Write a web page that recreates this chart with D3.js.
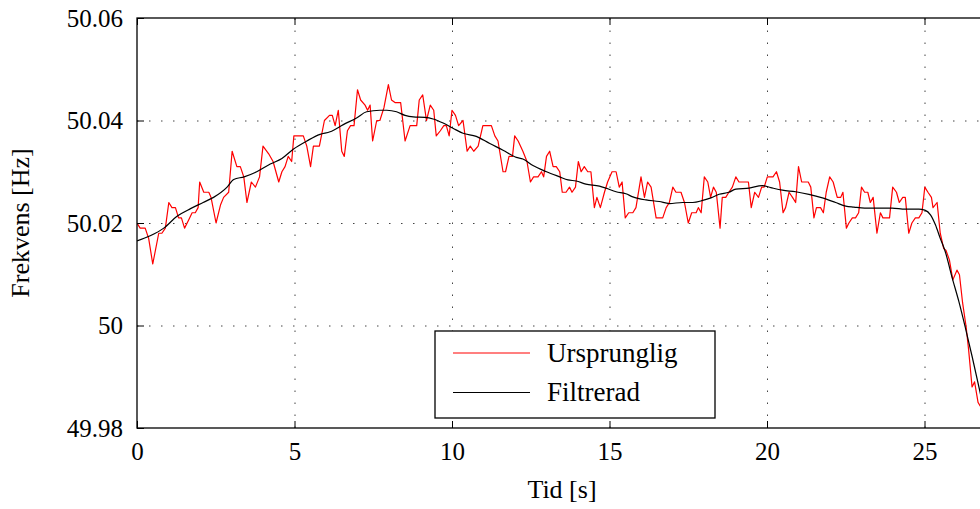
<!DOCTYPE html>
<html>
<head>
<meta charset="utf-8">
<script src="https://cdn.jsdelivr.net/npm/d3@7"></script>
<style>
  body { margin: 0; background: #fff; }
  svg { display: block; }
</style>
</head>
<body>
<div id="chart"></div>
<script>
// tid [s], frekvens [Hz] - avläst ur originalet
const ursprunglig = [
  [0.00,50.020],[0.10,50.019],[0.26,50.019],[0.37,50.017],[0.50,50.012],[0.69,50.018],[0.79,50.018],[0.90,50.019],
  [1.01,50.024],[1.11,50.023],[1.22,50.023],[1.32,50.021],[1.41,50.021],[1.51,50.019],[1.64,50.0206],[1.75,50.022],
  [1.85,50.022],[1.94,50.023],[1.99,50.028],[2.12,50.026],[2.28,50.026],[2.35,50.025],[2.51,50.020],[2.65,50.0235],
  [2.75,50.025],[2.91,50.026],[3.02,50.034],[3.17,50.031],[3.28,50.031],[3.39,50.029],[3.49,50.024],[3.63,50.028],
  [3.76,50.027],[3.89,50.029],[4.00,50.035],[4.18,50.0335],[4.32,50.032],[4.50,50.028],[4.60,50.030],[4.70,50.031],
  [4.80,50.033],[4.91,50.032],[4.98,50.037],[5.28,50.037],[5.39,50.035],[5.51,50.031],[5.60,50.035],[5.79,50.035],
  [5.95,50.040],[6.11,50.041],[6.20,50.041],[6.29,50.039],[6.39,50.042],[6.50,50.034],[6.58,50.033],[6.68,50.038],
  [6.78,50.039],[6.89,50.039],[7.00,50.046],[7.10,50.044],[7.24,50.043],[7.32,50.042],[7.40,50.043],[7.48,50.036],
  [7.61,50.040],[7.71,50.040],[7.84,50.0425],[7.98,50.047],[8.08,50.044],[8.19,50.0435],[8.37,50.0435],[8.51,50.036],
  [8.67,50.039],[8.77,50.039],[8.88,50.039],[8.96,50.044],[9.07,50.045],[9.19,50.040],[9.31,50.043],[9.42,50.042],
  [9.50,50.037],[9.63,50.038],[9.74,50.039],[9.82,50.039],[9.91,50.037],[10.00,50.042],[10.11,50.041],[10.21,50.039],
  [10.35,50.040],[10.48,50.034],[10.58,50.035],[10.69,50.034],[10.83,50.035],[10.98,50.039],[11.25,50.039],[11.36,50.037],
  [11.46,50.036],[11.62,50.030],[11.70,50.030],[11.81,50.033],[11.92,50.033],[11.99,50.037],[12.10,50.036],[12.25,50.034],
  [12.38,50.032],[12.49,50.028],[12.59,50.029],[12.73,50.029],[12.84,50.030],[12.91,50.029],[13.00,50.033],[13.10,50.034],
  [13.21,50.031],[13.31,50.031],[13.42,50.030],[13.50,50.026],[13.62,50.026],[13.73,50.027],[13.81,50.026],[13.92,50.027],
  [14.01,50.032],[14.10,50.030],[14.20,50.031],[14.31,50.030],[14.41,50.030],[14.52,50.023],[14.60,50.025],[14.71,50.023],
  [14.84,50.026],[14.94,50.028],[15.08,50.030],[15.21,50.030],[15.31,50.027],[15.40,50.028],[15.50,50.021],[15.61,50.022],
  [15.74,50.022],[15.84,50.023],[16.00,50.029],[16.11,50.025],[16.21,50.028],[16.32,50.027],[16.48,50.021],[16.69,50.021],
  [16.80,50.023],[16.90,50.024],[17.01,50.027],[17.11,50.026],[17.27,50.026],[17.38,50.024],[17.50,50.020],[17.61,50.022],
  [17.75,50.022],[17.82,50.023],[17.91,50.022],[18.01,50.029],[18.12,50.028],[18.21,50.025],[18.30,50.027],[18.39,50.026],
  [18.51,50.019],[18.58,50.025],[18.69,50.025],[18.79,50.026],[18.90,50.027],[19.01,50.029],[19.11,50.028],[19.41,50.028],
  [19.50,50.023],[19.61,50.026],[19.73,50.025],[19.83,50.027],[19.91,50.027],[20.01,50.029],[20.19,50.029],[20.30,50.030],
  [20.40,50.028],[20.51,50.022],[20.59,50.023],[20.70,50.026],[20.81,50.025],[20.91,50.024],[21.00,50.031],[21.10,50.028],
  [21.31,50.028],[21.39,50.027],[21.49,50.021],[21.57,50.023],[21.70,50.023],[21.79,50.022],[21.88,50.026],[21.99,50.029],
  [22.10,50.028],[22.23,50.025],[22.34,50.025],[22.41,50.026],[22.52,50.019],[22.60,50.020],[22.71,50.021],[22.81,50.021],
  [22.91,50.022],[23.00,50.027],[23.10,50.026],[23.20,50.026],[23.28,50.024],[23.37,50.025],[23.49,50.018],[23.60,50.022],
  [23.68,50.021],[23.89,50.021],[23.99,50.027],[24.11,50.026],[24.20,50.024],[24.31,50.025],[24.39,50.025],[24.50,50.018],
  [24.60,50.020],[24.71,50.021],[24.82,50.021],[24.92,50.022],[25.01,50.027],[25.11,50.026],[25.22,50.025],[25.27,50.023],
  [25.40,50.024],[25.50,50.018],[25.61,50.015],[25.68,50.0147],[25.79,50.0128],[25.90,50.0089],[26.03,50.0108],[26.11,50.0099],
  [26.21,50.0044],[26.32,49.9998],[26.40,49.9953],[26.51,49.988],[26.59,49.989],[26.70,49.985],[26.80,49.984]
];

const filtrerad = [
  [0.00,50.0165],[0.42,50.0175],[0.85,50.019],[1.27,50.0213],[1.70,50.0228],[2.10,50.024],[2.43,50.025],[2.86,50.027],
  [3.07,50.0285],[3.40,50.029],[3.80,50.030],[4.23,50.0315],[4.60,50.0326],[4.96,50.0344],[5.39,50.036],[5.81,50.0373],
  [6.13,50.0378],[6.55,50.0392],[6.97,50.0405],[7.29,50.0417],[7.71,50.042],[7.93,50.042],[8.24,50.0417],[8.51,50.041],
  [8.77,50.0407],[9.14,50.0406],[9.40,50.0403],[9.72,50.0395],[10.03,50.0385],[10.35,50.0375],[10.77,50.0369],[11.20,50.0355],
  [11.62,50.0342],[12.04,50.0328],[12.25,50.0325],[12.57,50.0312],[13.00,50.030],[13.42,50.029],[13.68,50.0284],[13.94,50.0282],
  [14.25,50.0276],[14.68,50.0272],[14.89,50.0268],[15.21,50.0261],[15.52,50.0257],[15.74,50.0251],[16.16,50.0245],[16.58,50.0242],
  [16.90,50.0238],[17.32,50.024],[17.64,50.024],[17.96,50.0244],[18.22,50.0249],[18.48,50.0256],[18.79,50.026],[19.01,50.0266],
  [19.43,50.0268],[19.85,50.0273],[20.12,50.0269],[20.49,50.0264],[20.91,50.0261],[21.33,50.0256],[21.76,50.0249],[22.18,50.024],
  [22.50,50.0233],[22.76,50.0231],[23.10,50.0229],[23.55,50.0229],[23.97,50.0229],[24.39,50.0227],[24.82,50.0227],[25.01,50.0225],
  [25.19,50.0216],[25.35,50.0196],[25.50,50.017],[25.66,50.0144],[25.87,50.0095],[26.09,50.0047],[26.30,49.9995],[26.51,49.994],
  [26.76,49.9871],[26.90,49.983]
];

const xTicks = [0, 5, 10, 15, 20, 25, 30];
const yTicks = [49.98, 50, 50.02, 50.04, 50.06];
const legendNames = ["Ursprunglig", "Filtrerad"];
const colors = ["#ff0000", "#000000"];

const serif = '"Liberation Serif", "Times New Roman", serif';
const width = 980, height = 509;
const mLeft = 137, mTop = 18, mBottom = 428;
const mRight = mLeft + 30 * 31.5; // axeln fortsätter utanför bilden

const x = d3.scaleLinear().domain([0, 30]).range([mLeft, mRight]);
const y = d3.scaleLinear().domain([49.98, 50.06]).range([mBottom, mTop]);

const svg = d3.select("#chart").append("svg")
  .attr("width", width)
  .attr("height", height);

svg.append("defs").append("clipPath").attr("id", "plotclip")
  .append("rect")
  .attr("x", mLeft).attr("y", mTop)
  .attr("width", mRight - mLeft).attr("height", mBottom - mTop);

// rutnät
svg.append("g")
  .attr("transform", `translate(0,${mBottom})`)
  .call(d3.axisBottom(x).tickValues(xTicks.filter(d => d > 0)).tickSize(-(mBottom - mTop)).tickFormat(""))
  .call(g => g.select(".domain").remove())
  .selectAll("line")
  .attr("stroke", "#444")
  .attr("stroke-dasharray", "1.5,10.5");

svg.append("g")
  .attr("transform", `translate(${mLeft},0)`)
  .call(d3.axisLeft(y).tickValues(yTicks.slice(1, -1)).tickSize(-(mRight - mLeft)).tickFormat(""))
  .call(g => g.select(".domain").remove())
  .selectAll("line")
  .attr("stroke", "#444")
  .attr("stroke-dasharray", "1.5,10.5");

// kurvor
const line = d3.line().x(d => x(d[0])).y(d => y(d[1]));
const plot = svg.append("g").attr("clip-path", "url(#plotclip)");

plot.append("path")
  .datum(ursprunglig)
  .attr("fill", "none")
  .attr("stroke", colors[0])
  .attr("stroke-width", 1.2)
  .attr("stroke-linejoin", "round")
  .attr("d", line);

plot.append("path")
  .datum(filtrerad)
  .attr("fill", "none")
  .attr("stroke", colors[1])
  .attr("stroke-width", 1.2)
  .attr("d", line.curve(d3.curveMonotoneX));

// axlar med inåtvända tickar
svg.append("g")
  .attr("transform", `translate(0,${mBottom})`)
  .call(d3.axisBottom(x).tickValues(xTicks.filter(d => x(d) < width)).tickSize(-7).tickPadding(14).tickFormat(d3.format("d")))
  .call(g => g.select(".domain").remove())
  .call(g => g.selectAll("line").attr("stroke", "#000"))
  .call(g => g.selectAll("text").attr("fill", "#000").style("font-family", serif).style("font-size", "25px"));

svg.append("g")
  .attr("transform", `translate(0,${mTop})`)
  .call(d3.axisTop(x).tickValues(xTicks).tickSize(-7).tickFormat(""))
  .call(g => g.select(".domain").remove())
  .call(g => g.selectAll("line").attr("stroke", "#000"));

svg.append("g")
  .attr("transform", `translate(${mLeft},0)`)
  .call(d3.axisLeft(y).tickValues(yTicks).tickSize(-7).tickPadding(14).tickFormat(d => String(+d.toFixed(2))))
  .call(g => g.select(".domain").remove())
  .call(g => g.selectAll("line").attr("stroke", "#000"))
  .call(g => g.selectAll("text").attr("fill", "#000").style("font-family", serif).style("font-size", "25px"));

// ram
svg.append("rect")
  .attr("x", mLeft).attr("y", mTop)
  .attr("width", mRight - mLeft).attr("height", mBottom - mTop)
  .attr("fill", "none")
  .attr("stroke", "#000")
  .attr("stroke-width", 1.3);

// axeltitlar
svg.append("text")
  .attr("x", 562)
  .attr("y", 498)
  .attr("text-anchor", "middle")
  .style("font-family", serif)
  .style("font-size", "26px")
  .text("Tid [s]");

svg.append("text")
  .attr("transform", `translate(29,${(mTop + mBottom) / 2}) rotate(-90)`)
  .attr("text-anchor", "middle")
  .style("font-family", serif)
  .style("font-size", "26px")
  .text("Frekvens [Hz]");

// förklaring
const legend = svg.append("g").attr("transform", "translate(435,331)");
legend.append("rect")
  .attr("width", 280).attr("height", 87)
  .attr("fill", "#fff")
  .attr("stroke", "#000")
  .attr("stroke-width", 1.3);

legendNames.forEach((name, i) => {
  const ly = 22 + i * 39.5;
  legend.append("line")
    .attr("x1", 18).attr("x2", 95)
    .attr("y1", ly).attr("y2", ly)
    .attr("stroke", colors[i])
    .attr("stroke-width", 1.2);
  legend.append("text")
    .attr("x", 112).attr("y", ly)
    .attr("dy", "0.33em")
    .style("font-family", serif)
    .style("font-size", "27px")
    .text(name);
});
</script>
</body>
</html>
